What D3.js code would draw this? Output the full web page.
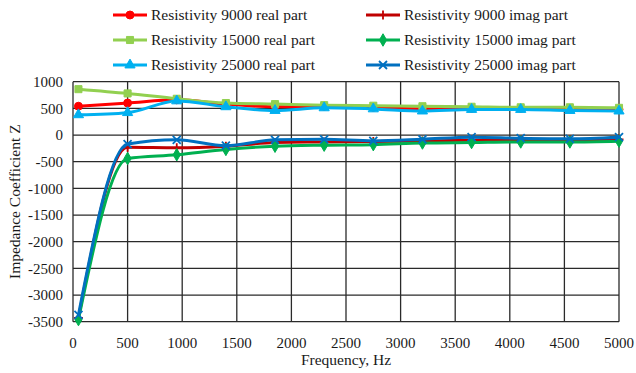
<!DOCTYPE html>
<html>
<head>
<meta charset="utf-8">
<script src="https://cdn.jsdelivr.net/npm/d3@7"></script>
<style>
  body { margin: 0; background: #fff; }
  svg text { font-family: "Liberation Serif", "Times New Roman", serif; fill: #1a1a1a; }
</style>
</head>
<body>
<div id="chart"></div>
<script>
// data
const freqs = [50, 500, 950, 1400, 1850, 2300, 2750, 3200, 3650, 4100, 4550, 5000];
const real9000 = [540, 600, 660, 580, 530, 540, 520, 490, 500, 500, 490, 480];
const imag9000 = [-3430, -230, -240, -210, -140, -130, -120, -110, -100, -100, -90, -80];
const real15000 = [860, 780, 680, 600, 580, 560, 550, 540, 530, 520, 520, 510];
const imag15000 = [-3460, -440, -370, -270, -210, -190, -180, -150, -140, -130, -130, -115];
const real25000 = [380, 420, 640, 530, 460, 510, 490, 450, 480, 480, 460, 450];
const imag25000 = [-3370, -170, -90, -200, -90, -80, -110, -80, -40, -60, -70, -40];
const xTicks = [0, 500, 1000, 1500, 2000, 2500, 3000, 3500, 4000, 4500, 5000];
const yTicks = [1000, 500, 0, -500, -1000, -1500, -2000, -2500, -3000, -3500];

const series = [
  {name: 'Resistivity 9000 real part', values: real9000, color: '#ff0000', marker: 'circle'},
  {name: 'Resistivity 9000 imag part', values: imag9000, color: '#c00000', marker: 'plus'},
  {name: 'Resistivity 15000 real part', values: real15000, color: '#92d050', marker: 'square'},
  {name: 'Resistivity 15000 imag part', values: imag15000, color: '#00b050', marker: 'diamond'},
  {name: 'Resistivity 25000 real part', values: real25000, color: '#00b0f0', marker: 'triangle'},
  {name: 'Resistivity 25000 imag part', values: imag25000, color: '#0070c0', marker: 'cross'}
];

const config = {
  totalWidth: 636,
  totalHeight: 373,
  margin: {top: 81.7, right: 17, bottom: 51.3, left: 73}
};
const width = config.totalWidth - config.margin.left - config.margin.right;
const height = config.totalHeight - config.margin.top - config.margin.bottom;

const svg = d3.select('#chart').append('svg')
  .attr('width', config.totalWidth)
  .attr('height', config.totalHeight);

const g = svg.append('g')
  .attr('transform', `translate(${config.margin.left},${config.margin.top})`);

const x = d3.scaleLinear().domain([0, 5000]).range([0, width]);
const y = d3.scaleLinear().domain([-3500, 1000]).range([height, 0]);

// grid
g.append('g').selectAll('line.v')
  .data(xTicks)
  .enter().append('line')
  .attr('x1', d => x(d)).attr('x2', d => x(d))
  .attr('y1', 0).attr('y2', height)
  .attr('stroke', '#2a2a2a').attr('stroke-width', 1.3);
g.append('g').selectAll('line.h')
  .data(yTicks)
  .enter().append('line')
  .attr('x1', 0).attr('x2', width)
  .attr('y1', d => y(d)).attr('y2', d => y(d))
  .attr('stroke', '#2a2a2a').attr('stroke-width', 1.3);

// tick labels
g.append('g').selectAll('text')
  .data(yTicks)
  .enter().append('text')
  .attr('x', -10)
  .attr('y', d => y(d))
  .attr('dy', '0.35em')
  .attr('text-anchor', 'end')
  .attr('font-size', 15)
  .text(d => d);
g.append('g').selectAll('text')
  .data(xTicks)
  .enter().append('text')
  .attr('x', d => x(d))
  .attr('y', height + 26)
  .attr('text-anchor', 'middle')
  .attr('font-size', 15)
  .text(d => d);

// axis titles
g.append('text')
  .attr('x', width / 2)
  .attr('y', height + 43)
  .attr('text-anchor', 'middle')
  .attr('font-size', 15.5)
  .text('Frequency, Hz');
g.append('text')
  .attr('transform', `translate(${-config.margin.left + 20},${height / 2}) rotate(-90)`)
  .attr('text-anchor', 'middle')
  .attr('font-size', 15.5)
  .text('Impedance Coefficient Z');

const markerPath = (type) => {
  switch (type) {
    case 'circle': return d3.symbol(d3.symbolCircle, 50)();
    case 'square': return d3.symbol(d3.symbolSquare, 50)();
    case 'diamond': return d3.symbol(d3.symbolDiamond, 45)();
    case 'triangle': return d3.symbol(d3.symbolTriangle, 45)();
    case 'plus': return 'M-4.5,0H4.5M0,-4.5V4.5';
    case 'cross': return 'M-4,-4L4,4M-4,4L4,-4';
  }
};
const strokeOnly = m => m === 'plus' || m === 'cross';

const line = d3.line()
  .x((d, i) => x(freqs[i]))
  .y(d => y(d))
  .curve(d3.curveMonotoneX);

series.forEach(s => {
  const layer = g.append('g');
  layer.append('path')
    .datum(s.values)
    .attr('fill', 'none')
    .attr('stroke', s.color)
    .attr('stroke-width', 3)
    .attr('d', line);
  layer.selectAll('path.m')
    .data(s.values)
    .enter().append('path')
    .attr('transform', (d, i) => `translate(${x(freqs[i])},${y(d)})`)
    .attr('d', markerPath(s.marker))
    .attr('fill', strokeOnly(s.marker) ? 'none' : s.color)
    .attr('stroke', s.color)
    .attr('stroke-width', strokeOnly(s.marker) ? 1.8 : 1);
});

// legend
const legendCols = [113, 366];
const legendRows = [15, 40, 65];
const legend = svg.append('g');
series.forEach((s, i) => {
  const lx = legendCols[i % 2];
  const ly = legendRows[Math.floor(i / 2)];
  const item = legend.append('g');
  item.append('line')
    .attr('x1', lx).attr('x2', lx + 34)
    .attr('y1', ly).attr('y2', ly)
    .attr('stroke', s.color).attr('stroke-width', 3);
  item.append('path')
    .attr('transform', `translate(${lx + 17},${ly})`)
    .attr('d', markerPath(s.marker))
    .attr('fill', strokeOnly(s.marker) ? 'none' : s.color)
    .attr('stroke', s.color)
    .attr('stroke-width', strokeOnly(s.marker) ? 1.8 : 1);
  item.append('text')
    .attr('x', lx + 38)
    .attr('y', ly)
    .attr('dy', '0.35em')
    .attr('font-size', 15.5)
    .text(s.name);
});
</script>
</body>
</html>
